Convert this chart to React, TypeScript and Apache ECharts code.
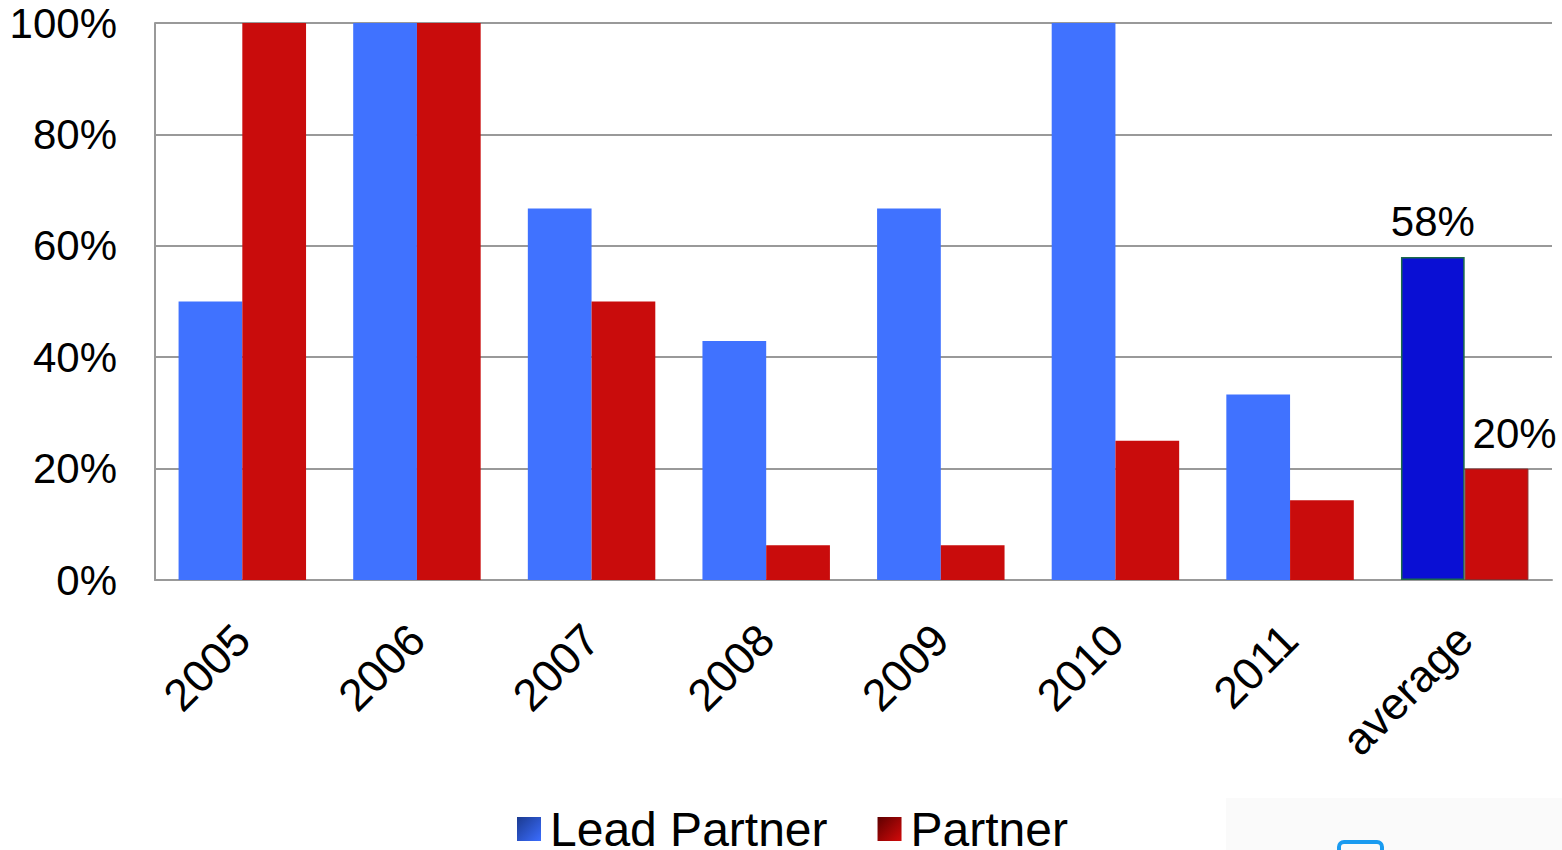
import React, { useEffect, useRef } from "react";
import * as echarts from "echarts";

const categories = ["2005", "2006", "2007", "2008", "2009", "2010", "2011", "average"];
const leadPartner = [50, 100, 66.7, 42.9, 66.7, 100, 33.3, 58];
const partner = [100, 100, 50, 6.25, 6.25, 25, 14.3, 20];
const yTicks = [0, 20, 40, 60, 80, 100];

export default function App() {
  const ref = useRef<HTMLDivElement>(null);
  useEffect(() => {
    const chart = echarts.init(ref.current!, null, { renderer: "svg" });
    const font = "'Liberation Sans', Arial, sans-serif";
    const lastIdx = categories.length - 1;
    chart.setOption({
      animation: false,
      textStyle: { fontFamily: font },
      grid: { left: 155, right: 10, top: 23, bottom: 270, containLabel: false },
      legend: {
        bottom: -8,
        left: 512,
        icon: "rect",
        itemWidth: 24,
        itemHeight: 24,
        itemGap: 50,
        textStyle: { fontSize: 48, color: "#000", fontFamily: font, padding: [0, 0, 0, 4] },
        data: [
          {
            name: "Lead Partner",
            itemStyle: {
              color: new echarts.graphic.LinearGradient(0, 0, 1, 1, [
                { offset: 0, color: "#1b3a8f" },
                { offset: 1, color: "#3b6dff" },
              ]),
              borderWidth: 0,
            },
          },
          {
            name: "Partner",
            itemStyle: {
              color: new echarts.graphic.LinearGradient(0, 0, 1, 1, [
                { offset: 0, color: "#5e0000" },
                { offset: 1, color: "#d20a0a" },
              ]),
              borderWidth: 0,
            },
          },
        ],
      },
      xAxis: {
        type: "category",
        data: categories,
        axisLine: { lineStyle: { color: "#999", width: 2 } },
        axisTick: { show: false },
        axisLabel: {
          rotate: 45,
          fontSize: 45,
          color: "#000",
          margin: 52,
          fontFamily: font,
        },
      },
      yAxis: {
        type: "value",
        min: yTicks[0],
        max: yTicks[yTicks.length - 1],
        interval: 20,
        axisLine: { show: true, lineStyle: { color: "#999", width: 2 } },
        axisTick: { show: false },
        splitLine: { lineStyle: { color: "#999", width: 2 } },
        axisLabel: {
          fontSize: 42,
          color: "#000",
          margin: 38,
          formatter: "{value}%",
          fontFamily: font,
        },
      },
      series: [
        {
          name: "Lead Partner",
          type: "bar",
          barGap: "0%",
          barCategoryGap: "27%",
          data: leadPartner.map((v, i) =>
            i === lastIdx
              ? {
                  value: v,
                  itemStyle: { color: "#0a0fd4", borderColor: "#1b6a4a", borderWidth: 1.5 },
                  label: {
                    show: true,
                    position: "top",
                    formatter: "{c}%",
                    fontSize: 42,
                    color: "#000",
                    distance: 14,
                  },
                }
              : v
          ),
          itemStyle: { color: "#4072ff" },
        },
        {
          name: "Partner",
          type: "bar",
          data: partner.map((v, i) =>
            i === lastIdx
              ? {
                  value: v,
                  itemStyle: { color: "#c90c0c", borderColor: "#8a2a2a", borderWidth: 1 },
                  label: {
                    show: true,
                    position: "top",
                    formatter: "{c}%",
                    fontSize: 42,
                    color: "#000",
                    distance: 14,
                    offset: [18, 0],
                  },
                }
              : v
          ),
          itemStyle: { color: "#c90c0c" },
        },
      ],
      graphic: [
        {
          type: "rect",
          shape: { x: 1226, y: 798, width: 336, height: 60 },
          style: { fill: "#fafafa" },
          silent: true,
        },
        {
          type: "rect",
          shape: { x: 1339, y: 842, width: 43, height: 20, r: 5 },
          style: { fill: "none", stroke: "#1a9bf0", lineWidth: 4 },
          silent: true,
        },
      ],
    });
    return () => chart.dispose();
  }, []);
  return (
    <div
      ref={ref}
      style={{ position: "fixed", left: 0, top: 0, width: 1562, height: 850, background: "#fff" }}
    />
  );
}
